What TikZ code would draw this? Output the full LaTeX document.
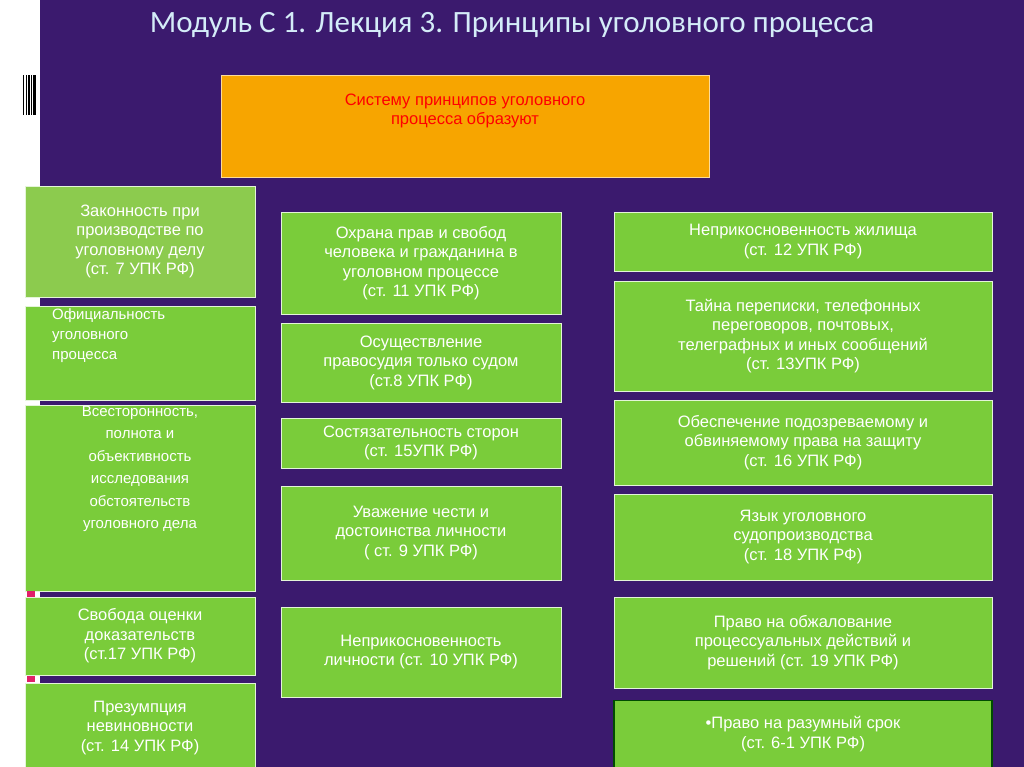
\documentclass[tikz,border=0pt]{standalone}
\usepackage{fontspec}
\setmainfont{Liberation Sans}
\newfontfamily\titlefont{Carlito}
\definecolor{bgp}{HTML}{3B1A6E}
\definecolor{gr}{HTML}{7ACC3A}
\definecolor{grl}{HTML}{8CCB4E}
\definecolor{org}{HTML}{F7A500}
\definecolor{ttl}{HTML}{D4ECF8}
\definecolor{pnk}{HTML}{E0206A}
\begin{document}
\begin{tikzpicture}[x=1pt,y=-1pt,
 bx/.style={draw=white!80!gr,line width=0.8pt,fill=gr,text=white,align=center,font=\fontsize{16.5}{19.5}\selectfont,inner sep=0pt},
 ]
\useasboundingbox (0,0) rectangle (1024,767);
\fill[white] (0,0) rectangle (1024,767);
\fill[bgp] (40,0) rectangle (1024,767);
\node[text=ttl,font=\titlefont\fontsize{31}{34}\selectfont] (title) at (512,25) {Модуль С 1. Лекция 3. Принципы уголовного процесса};
\foreach \xx/\w in {23/1,26/1,28/2,31/1,33/3} \fill[black] (\xx,75) rectangle (\xx+\w,115);
\node[bx,fill=org,draw=white!60!org,text=red,minimum width=488,minimum height=102] (o) at (465,126) {Систему принципов уголовного\\процесса образуют\\[14pt]};
% left column
\node[bx,fill=grl,minimum width=230,minimum height=111] (l1) at (140,241.5) {Законность при\\производстве по\\уголовному делу\\(ст. 7 УПК РФ)};
\node[bx,minimum width=230,minimum height=94] (l2) at (140,353) {};
\node[text=white,align=left,anchor=north west,font=\fontsize{15}{20}\selectfont,inner sep=0pt] (l2t) at (52,308) {Официальность\\уголовного\\процесса};
\node[bx,minimum width=230,minimum height=179,font=\fontsize{15}{22.5}\selectfont] (l3) at (140,498.5) {Всесторонность,\\полнота и\\объективность\\исследования\\обстоятельств\\уголовного дела\\[40pt]};
\node[bx,minimum width=230,minimum height=78] (l4) at (140,636) {Свобода оценки\\доказательств\\(ст.17 УПК РФ)};
\node[bx,minimum width=230,minimum height=90] (l5) at (140,728) {Презумпция\\невиновности\\(ст. 14 УПК РФ)};
\fill[pnk] (27,591) rectangle (35,597);
\fill[pnk] (27,676) rectangle (35,682);
% middle
\node[bx,minimum width=280,minimum height=102] (m1) at (421,263) {Охрана прав и свобод\\человека и гражданина в\\уголовном процессе\\(ст. 11 УПК РФ)};
\node[bx,minimum width=280,minimum height=79] (m2) at (421,362.5) {Осуществление\\правосудия только судом\\(ст.8 УПК РФ)};
\node[bx,minimum width=280,minimum height=50] (m3) at (421,443) {Состязательность сторон\\(ст. 15УПК РФ)};
\node[bx,minimum width=280,minimum height=94] (m4) at (421,533) {Уважение чести и\\достоинства личности\\( ст. 9 УПК РФ)};
\node[bx,minimum width=280,minimum height=90] (m5) at (421,652) {Неприкосновенность\\личности (ст. 10 УПК РФ)};
% right
\node[bx,minimum width=378,minimum height=59] (r1) at (803,241.5) {Неприкосновенность жилища\\(ст. 12 УПК РФ)};
\node[bx,minimum width=378,minimum height=110] (r2) at (803,336) {Тайна переписки, телефонных\\переговоров, почтовых,\\телеграфных и иных сообщений\\(ст. 13УПК РФ)};
\node[bx,minimum width=378,minimum height=85] (r3) at (803,442.5) {Обеспечение подозреваемому и\\обвиняемому права на защиту\\(ст. 16 УПК РФ)};
\node[bx,minimum width=378,minimum height=86] (r4) at (803,537) {Язык уголовного\\судопроизводства\\(ст. 18 УПК РФ)};
\node[bx,minimum width=378,minimum height=91] (r5) at (803,642.5) {Право на обжалование\\процессуальных действий и\\решений (ст. 19 УПК РФ)};
\node[bx,draw=green!30!black,line width=1.5pt,minimum width=378,minimum height=67] (r6) at (803,734) {•Право на разумный срок\\(ст. 6-1 УПК РФ)};
\end{tikzpicture}
\end{document}
